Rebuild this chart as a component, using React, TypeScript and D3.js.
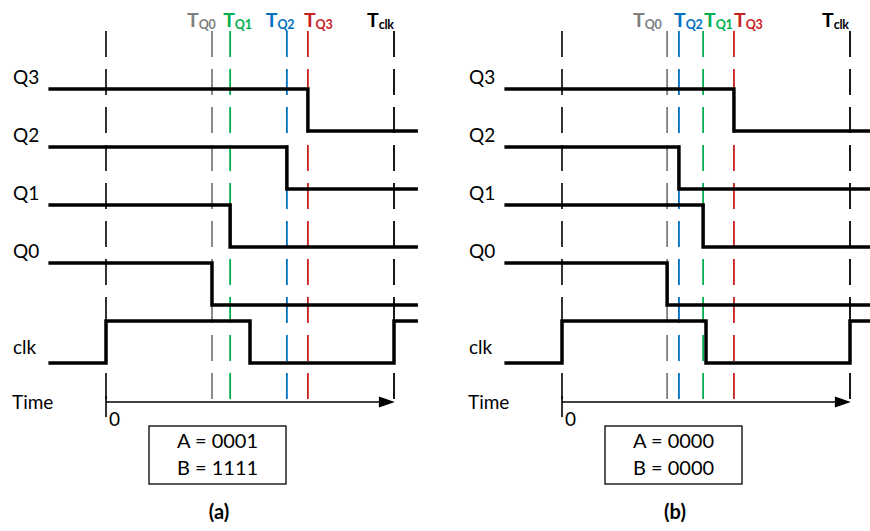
import React from "react";
import * as d3 from "d3";

// ---- data ----
const signalNames = ["Q3", "Q2", "Q1", "Q0", "clk"];
const panelNames = ["(a)", "(b)"];
const markerNames = ["Q0", "Q1", "Q2", "Q3", "clk"];
const markerColors = ["#7f7f7f", "#00b050", "#0070c0", "#c81e1e", "#000000"];
// time at which each Q falls (units: Tclk = 100)
const markerTimesA = [36.8, 43.1, 62.8, 70.1, 100];
const markerTimesB = [36.5, 49.0, 40.6, 59.7, 100];
const clkEdges = [0, 50, 100];
const inputsA = ["A = 0001", "B = 1111"];
const inputsB = ["A = 0000", "B = 0000"];
const tStart = -20;
const tEnd = 108.3;
const tArrow = 100.3;

// ---- layout ----
const W = 870;
const H = 531;
const panelOffset = 456;
const font = "Lato, 'Open Sans', sans-serif";
// label left offset from its marker line, order = markerNames
const labelDxA = [-25, -7, -21, -4, -27];
const labelDxB = [-34, 1, -5, 0, -28];

const yRow = d3.scalePoint<string>().domain(signalNames).range([89, 321]);
const swing = 42;

function Panel({ index }: { index: number }) {
  const ox = index * panelOffset;
  const x = d3.scaleLinear().domain([0, 100]).range([106 + ox, 394 + ox]);
  const times = index === 0 ? markerTimesA : markerTimesB;
  const labelDx = index === 0 ? labelDxA : labelDxB;
  const inputs = index === 0 ? inputsA : inputsB;

  const line = d3
    .line<[number, number]>()
    .x((d) => x(d[0]))
    .y((d) => d[1])
    .curve(d3.curveStepAfter);

  const paths = signalNames.map((name) => {
    const hi = yRow(name)!;
    const lo = hi + swing;
    let pts: [number, number][];
    if (name === "clk") {
      pts = [[tStart, lo]];
      clkEdges.forEach((t, i) => pts.push([t, i % 2 === 0 ? hi : lo]));
      pts.push([tEnd, clkEdges.length % 2 === 1 ? hi : lo]);
    } else {
      const mi = markerNames.indexOf(name);
      const tf = times[mi];
      pts = [
        [tStart, hi],
        [tf, lo],
        [tEnd, lo],
      ];
    }
    return { name, d: line(pts)! };
  });

  const dashTop = 31;
  const dashBot = 400;
  const axisY = 402;

  return (
    <g>
      <line x1={x(0)} x2={x(0)} y1={dashTop} y2={dashBot} stroke="#000" strokeWidth={1.6} strokeDasharray="26,12" />
      {markerNames.map((m, i) => (
        <line
          key={m}
          x1={x(times[i])}
          x2={x(times[i])}
          y1={dashTop}
          y2={dashBot}
          stroke={markerColors[i]}
          strokeWidth={1.8}
          strokeDasharray="26,12"
        />
      ))}
      {paths.map((p) => (
        <path key={p.name} d={p.d} fill="none" stroke="#000" strokeWidth={3.5} strokeLinejoin="miter" />
      ))}
      {signalNames.map((n) => (
        <text
          key={n}
          x={13 + ox}
          y={n === "clk" ? 354 : yRow(n)! - 5.5}
          fontFamily={font}
          fontSize={19}
          fill="#000"
        >
          {n}
        </text>
      ))}
      {markerNames.map((m, i) => (
        <text
          key={m}
          x={x(times[i]) + labelDx[i]}
          y={27}
          fontFamily={font}
          fontWeight="bold"
          fill={markerColors[i]}
        >
          <tspan fontSize={19.5}>T</tspan>
          <tspan fontSize={12.5} dy={2} letterSpacing={-0.3}>
            {m}
          </tspan>
        </text>
      ))}
      <text x={12 + ox} y={409} fontFamily={font} fontSize={19} fill="#000">
        Time
      </text>
      <line x1={x(0)} x2={x(0)} y1={396} y2={417} stroke="#000" strokeWidth={1.6} />
      <line x1={x(0)} x2={x(tArrow) - 12} y1={axisY} y2={axisY} stroke="#000" strokeWidth={1.6} />
      <path
        d={`M${x(tArrow)},${axisY} L${x(tArrow) - 16},${axisY - 5.5} L${x(tArrow) - 16},${axisY + 5.5} Z`}
        fill="#000"
      />
      <text x={x(0) + 3} y={426} fontFamily={font} fontSize={19} fill="#000">
        0
      </text>
      <rect x={149 + ox} y={426} width={137} height={58} fill="#fff" stroke="#000" strokeWidth={1.3} />
      {inputs.map((s, i) => (
        <text
          key={s}
          x={217.5 + ox}
          y={448 + i * 27}
          textAnchor="middle"
          fontFamily={font}
          fontSize={20}
          fill="#000"
        >
          {s}
        </text>
      ))}
      <text x={219 + ox} y={519} textAnchor="middle" fontFamily={font} fontSize={20} fontWeight="bold" fill="#000">
        {panelNames[index]}
      </text>
    </g>
  );
}

export default function App() {
  return (
    <svg
      width={W}
      height={H}
      viewBox={`0 0 ${W} ${H}`}
      style={{ position: "absolute", left: 0, top: 0, background: "#fff" }}
    >
      <rect x={0} y={0} width={W} height={H} fill="#fff" />
      {panelNames.map((p, i) => (
        <Panel key={p} index={i} />
      ))}
    </svg>
  );
}
